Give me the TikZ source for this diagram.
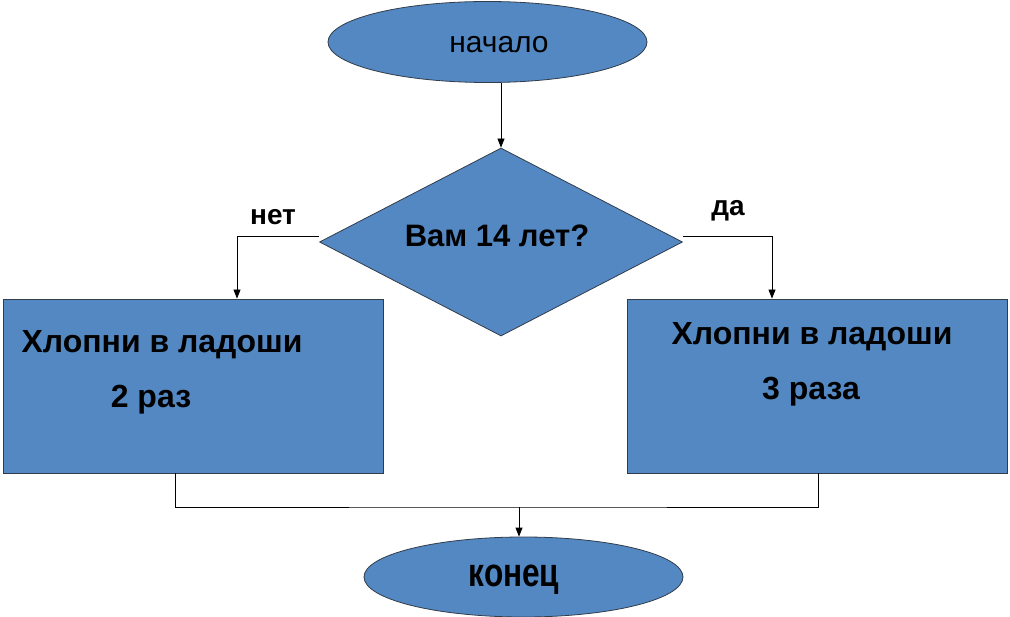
\documentclass[tikz,border=0pt]{standalone}
\usepackage{fontspec}
\setmainfont{Liberation Sans}
\usetikzlibrary{shapes.geometric,arrows.meta}
\definecolor{shapefill}{RGB}{83,136,194}
\definecolor{shapeline}{RGB}{50,60,75}
\tikzset{
  x=1pt, y=-1pt,
  shp/.style={fill=shapefill, draw=shapeline, line width=0.8pt, inner sep=0pt},
  term/.style={shp, ellipse, minimum width=319pt, minimum height=81pt},
  dec/.style={shp, diamond, minimum width=363pt, minimum height=188pt},
  proc/.style={shp, rectangle, minimum width=380pt, minimum height=174pt},
  txt/.style={font=\fontsize{32}{36}\selectfont\bfseries, inner sep=0pt},
  lbl/.style={font=\fontsize{28}{32}\selectfont\bfseries, inner sep=0pt},
  conn/.style={line width=0.8pt, draw=black},
  arr/.style={conn, -{Triangle[length=9pt,width=7pt]}}
}
\begin{document}
\begin{tikzpicture}
\useasboundingbox[fill=white] (0,0) rectangle (1010,617);
\node[term] (start) at (487.5,42) {};
\node[font=\fontsize{30}{34}\selectfont, inner sep=0pt] (starttxt) at (499,45) {начало};
\node[dec] (cond) at (501,242) {};
\node[txt, font=\fontsize{31}{36}\selectfont\bfseries] (condtxt) at (497,236) {Вам 14 лет?};
\node[proc] (lbox) at (193,386) {};
\node[proc] (rbox) at (817,386) {};
\node[txt] (ltxt1) at (162,345) {Хлопни в ладоши};
\node[txt] (ltxt2) at (151,400) {2 раз};
\node[txt] (rtxt1) at (812,337) {Хлопни в ладоши};
\node[txt] (rtxt2) at (811,392) {3 раза};
\node[term, minimum height=80pt] (finish) at (523.5,577) {};
\node[txt, font=\fontsize{40}{44}\selectfont\bfseries, xscale=0.79] (fintxt) at (514,580) {конец};
\node[lbl] (no) at (273,217) {нет};
\node[lbl] (yes) at (728,211) {да};
\coordinate (lin) at (237,236);
\coordinate (rin) at (772,236);
\coordinate (lout) at (175,473);
\coordinate (rout) at (818,473);
\coordinate (jn) at (519,507);
\draw[arr] (start.south -| cond.north) -- (cond.north);
\draw[arr] (cond.west |- lin) -- (lin) -- (lin |- lbox.north);
\draw[arr] (cond.east |- rin) -- (rin) -- (rin |- rbox.north);
\draw[conn] (lout |- lbox.south) |- (jn) -| (rout |- rbox.south);
\draw[arr] (jn) -- (jn |- finish.north);
\end{tikzpicture}
\end{document}
